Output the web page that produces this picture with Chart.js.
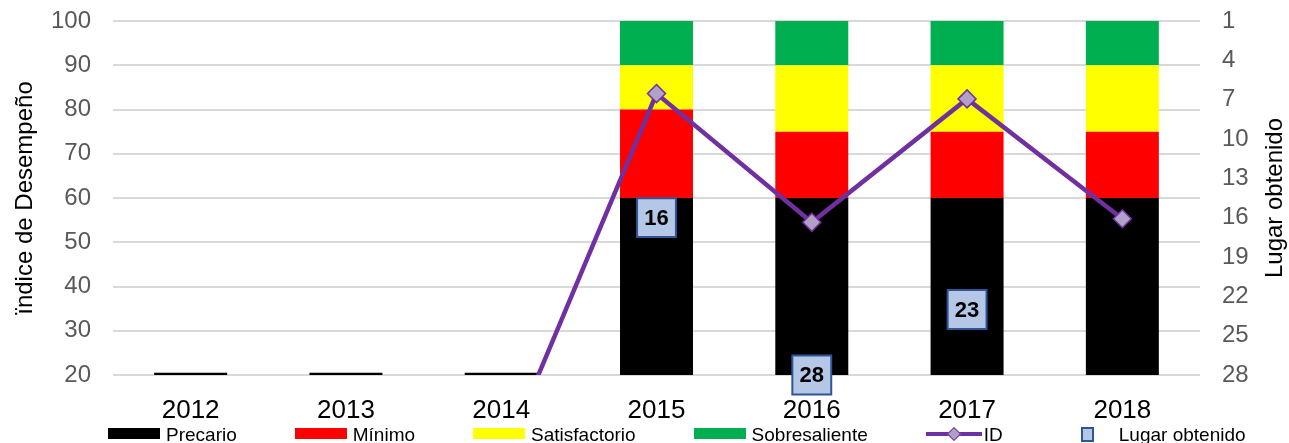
<!DOCTYPE html>
<html><head><meta charset="utf-8">
<script src="https://cdn.jsdelivr.net/npm/chart.js@4.4.1/dist/chart.umd.min.js"></script>
<style>
html,body{margin:0;padding:0;background:#fff;overflow:hidden;}
#wrap{position:relative;width:1289px;height:443px;overflow:hidden;}
#legend{position:absolute;left:108px;top:425px;display:flex;gap:58px;font-family:"Liberation Sans",Arial,sans-serif;font-size:19px;line-height:19px;color:#000;white-space:nowrap;}
.item{display:flex;align-items:flex-start;}
.mk{width:52px;height:19px;position:relative;margin-right:6px;flex:none;}
.mk .box{position:absolute;left:0;top:3px;width:52px;height:11px;}
.mk .ln{position:absolute;left:0;top:6.5px;width:56px;height:4px;background:#7030a0;}
.mk .dm{position:absolute;left:23px;top:3.5px;width:8px;height:8px;background:#b1a0c7;border:1.5px solid #7030a0;transform:rotate(45deg);}
.mk .sq{position:absolute;left:20px;top:2px;width:9px;height:11px;background:#b4c7e7;border:2px solid #2f5597;}
</style>
</head><body>
<div id="wrap"><canvas id="c" width="1289" height="443"></canvas><div id="legend"></div></div>
<script>
const categories = ['2012','2013','2014','2015','2016','2017','2018'];
const precario = [20.5, 20.5, 20.5, 60, 60, 60, 60];
const minimo = [0, 0, 0, 20, 15, 15, 15];
const satisfactorio = [0, 0, 0, 10, 15, 15, 15];
const sobresaliente = [0, 0, 0, 10, 10, 10, 10];
const indiceDesempeno = [0, 0, 0, 83.6, 54.5, 82.4, 55.3];
const lugarObtenido = [null, null, null, 16, 28, 23, null];
const leftTicks = [20, 30, 40, 50, 60, 70, 80, 90, 100];
const rightTicks = [1, 4, 7, 10, 13, 16, 19, 22, 25, 28];

const FAM = '"Liberation Sans", Arial, sans-serif';
Chart.defaults.font.family = FAM;

const barDs = (label, data, color, order) => ({
  type: 'bar', label, data, backgroundColor: color, borderWidth: 0,
  stack: 's', order, yAxisID: 'y', barPercentage: 0.47, categoryPercentage: 1
});

const lugarLabels = {
  id: 'lugarLabels',
  afterDatasetsDraw(chart) {
    const idx = chart.data.datasets.findIndex(d => d.label === 'Lugar obtenido');
    const meta = chart.getDatasetMeta(idx);
    const ctx = chart.ctx;
    ctx.save();
    ctx.font = 'bold 22px ' + FAM;
    ctx.fillStyle = '#000';
    ctx.textAlign = 'center';
    ctx.textBaseline = 'middle';
    meta.data.forEach((pt, i) => {
      const v = lugarObtenido[i];
      if (v == null) return;
      ctx.fillText(String(v), pt.x, pt.y + 1);
    });
    ctx.restore();
  },
  afterDraw(chart) {
    const s = chart.scales.y1;
    const ctx = chart.ctx;
    ctx.save();
    ctx.translate(s.right - 14, (chart.chartArea.top + chart.chartArea.bottom) / 2);
    ctx.rotate(-Math.PI / 2);
    ctx.font = '24px ' + FAM;
    ctx.fillStyle = '#000';
    ctx.textAlign = 'center';
    ctx.textBaseline = 'middle';
    ctx.fillText('Lugar obtenido', 0, 0);
    ctx.restore();
  }
};

const fitV = w => s => { s.width = w; s.paddingTop = 0; s.paddingBottom = 0; };

const chart = new Chart(document.getElementById('c'), {
  data: {
    labels: categories,
    datasets: [
      { type: 'line', label: 'Lugar obtenido', data: lugarObtenido, yAxisID: 'y1', showLine: false,
        pointStyle: 'rect', pointRadius: 27.5, pointBackgroundColor: '#b4c7e7', pointBorderColor: '#2f5597',
        pointBorderWidth: 2, order: 0, clip: false },
      { type: 'line', label: 'ID', data: indiceDesempeno, yAxisID: 'y', borderColor: '#7030a0', borderWidth: 4.5,
        pointStyle: 'rectRot', pointRadius: 9, pointBackgroundColor: '#b1a0c7', pointBorderColor: '#7030a0',
        pointBorderWidth: 1.5, order: 1, tension: 0 },
      barDs('Precario', precario, '#000000', 2),
      barDs('Mínimo', minimo, '#ff0000', 3),
      barDs('Satisfactorio', satisfactorio, '#ffff00', 4),
      barDs('Sobresaliente', sobresaliente, '#00b050', 5)
    ]
  },
  options: {
    responsive: false,
    animation: false,
    events: [],
    layout: { autoPadding: false, padding: { top: 21, left: 0, right: 0, bottom: 0 } },
    plugins: { legend: { display: false }, tooltip: { enabled: false } },
    scales: {
      x: {
        stacked: true,
        grid: { display: false }, border: { display: false },
        ticks: { color: '#000', font: { size: 26 }, padding: 12 },
        afterFit: s => { s.height = 68; s.paddingLeft = 0; s.paddingRight = 0; }
      },
      y: {
        position: 'left', stacked: true, min: 20, max: 100,
        afterBuildTicks: s => { s.ticks = leftTicks.map(v => ({ value: v })); },
        grid: { color: '#d9d9d9', lineWidth: 2, drawTicks: false }, border: { display: false },
        ticks: { color: '#595959', font: { size: 24 }, padding: 22 },
        title: { display: true, text: 'ïndice de Desempeño', color: '#000', font: { size: 24 }, padding: { top: 11, bottom: 0 } },
        afterFit: fitV(113)
      },
      y1: {
        position: 'right', min: 1, max: 28, reverse: true,
        afterBuildTicks: s => { s.ticks = rightTicks.map(v => ({ value: v })); },
        grid: { display: false, drawTicks: false }, border: { display: false },
        ticks: { color: '#595959', font: { size: 24 }, padding: 22 },
        afterFit: fitV(89)
      }
    }
  },
  plugins: [lugarLabels]
});

const legendItems = [
  { label: 'Precario', kind: 'box', color: '#000000' },
  { label: 'Mínimo', kind: 'box', color: '#ff0000' },
  { label: 'Satisfactorio', kind: 'box', color: '#ffff00' },
  { label: 'Sobresaliente', kind: 'box', color: '#00b050' },
  { label: 'ID', kind: 'line' },
  { label: 'Lugar obtenido', kind: 'sq' }
];
const lg = document.getElementById('legend');
legendItems.forEach(it => {
  const item = document.createElement('div'); item.className = 'item';
  const mk = document.createElement('div'); mk.className = 'mk';
  if (it.kind === 'box') { const b = document.createElement('div'); b.className = 'box'; b.style.background = it.color; mk.appendChild(b); }
  else if (it.kind === 'line') { const l = document.createElement('div'); l.className = 'ln'; const d = document.createElement('div'); d.className = 'dm'; mk.appendChild(l); mk.appendChild(d); }
  else { const q = document.createElement('div'); q.className = 'sq'; mk.appendChild(q); }
  const t = document.createElement('span'); t.textContent = it.label;
  item.appendChild(mk); item.appendChild(t);
  lg.appendChild(item);
});
</script>
</body></html>
